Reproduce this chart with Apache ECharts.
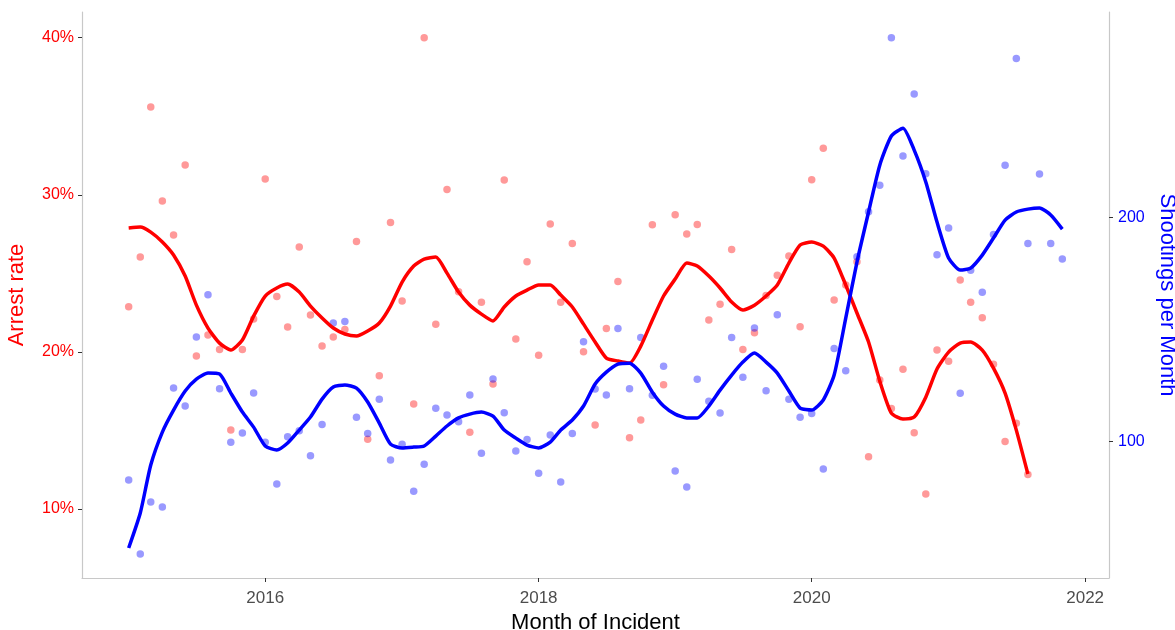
<!DOCTYPE html>
<html>
<head>
<meta charset="utf-8">
<script src="https://cdn.jsdelivr.net/npm/echarts@6/dist/echarts.min.js"></script>
<style>
  html, body { margin: 0; padding: 0; background: #fff; }
  #chart { width: 1175px; height: 630px; }
</style>
</head>
<body>
<div id="chart"></div>
<script>
  // monthly series, first month = Jan 2015
  var startYear = 2015;

  // arrest rate (%) per month, Jan 2015 .. Aug 2021
  var arrestRate = [
    22.87, 26.03, 35.59, 29.60, 27.43, 31.89, 19.73, 21.06, 20.15, 15.01, 20.15, 22.08,
    31.00, 23.52, 21.57, 26.67, 22.34, 20.36, 20.94, 21.41, 27.03, 14.42, 18.47, 28.24,
    23.23, 16.67, 40.00, 21.75, 30.34, 23.82, 14.87, 23.15, 17.94, 30.94, 20.81, 25.73,
    19.77, 28.13, 23.15, 26.90, 20.00, 15.33, 21.48, 24.47, 14.52, 15.65, 28.09, 17.90,
    28.73, 27.50, 28.11, 22.02, 23.02, 26.52, 20.15, 21.21, 23.59, 24.87, 26.10, 21.59,
    30.96, 32.96, 23.29, 24.25, 25.73, 13.31, 18.20, 16.39, 18.88, 14.84, 10.94, 20.11,
    19.39, 24.57, 23.15, 22.17, 19.20, 14.29, 15.44, 12.19
  ];

  // smoothed arrest rate (%)
  var arrestSmooth = [
    27.88, 27.94, 27.62, 26.99, 26.16, 24.82, 22.97, 21.51, 20.55, 20.11, 20.75, 22.27,
    23.55, 24.06, 24.31, 23.80, 22.91, 22.15, 21.51, 21.13, 21.00, 21.32, 21.83, 22.91,
    24.44, 25.46, 25.90, 26.03, 25.01, 23.80, 22.97, 22.40, 21.96, 22.85, 23.55, 23.93,
    24.25, 24.25, 23.61, 22.85, 21.76, 20.62, 19.60, 19.41, 19.28, 20.36, 22.02, 23.55,
    24.63, 25.65, 25.46, 24.82, 24.06, 23.17, 22.66, 22.97, 23.55, 24.25, 25.65, 26.80,
    26.99, 26.73, 25.97, 24.25, 22.47, 20.62, 18.13, 16.09, 15.71, 15.84, 17.11, 18.90,
    19.98, 20.55, 20.62, 20.11, 18.96, 17.37, 15.01, 12.21
  ];

  // shootings per month, Jan 2015 .. Nov 2021
  var shootings = [
    82.8, 49.8, 73.0, 70.8, 123.8, 115.8, 146.6, 165.4, 123.5, 99.7, 103.8, 121.6,
    99.7, 81.0, 102.1, 104.8, 93.6, 107.6, 152.8, 153.5, 110.8, 103.6, 118.8, 91.7,
    98.8, 77.8, 89.8, 114.8, 111.8, 108.8, 120.7, 94.7, 127.8, 112.8, 95.7, 100.9,
    85.8, 102.9, 81.9, 103.6, 144.5, 123.4, 120.7, 150.4, 123.5, 146.4, 120.6, 133.5,
    86.8, 79.7, 127.7, 117.9, 112.7, 146.4, 128.6, 150.6, 122.6, 156.5, 118.8, 110.8,
    112.5, 87.7, 141.5, 131.5, 182.4, 202.4, 214.2, 280.0, 227.3, 254.9, 219.4, 183.2,
    195.2, 121.5, 176.3, 166.5, 192.3, 223.1, 270.8, 188.3, 219.2, 188.3, 181.3
  ];

  // smoothed shootings per month
  var shootingsSmooth = [
    52.5, 68.1, 89.5, 104.2, 114.0, 122.5, 127.8, 130.5, 130.1, 121.6, 113.1, 106.4,
    98.0, 96.2, 99.3, 105.1, 110.9, 118.9, 124.3, 125.2, 123.8, 117.6, 108.2, 98.8,
    97.1, 97.5, 98.0, 102.4, 106.9, 110.5, 112.2, 113.1, 111.3, 105.1, 101.5, 98.4,
    97.1, 99.7, 105.1, 109.6, 115.8, 125.6, 130.9, 134.5, 134.9, 130.5, 122.0, 115.8,
    112.2, 110.5, 110.5, 115.8, 122.9, 129.6, 135.4, 139.4, 135.4, 130.5, 122.5, 114.9,
    114.0, 118.5, 129.6, 155.0, 180.0, 202.3, 223.2, 236.2, 239.7, 229.9, 215.7, 197.8,
    181.8, 176.4, 177.3, 183.1, 190.7, 198.7, 202.3, 203.6, 204.1, 201.0, 194.7
  ];

  var yearTicks = [2016, 2018, 2020, 2022];
  var rateTicks = [10, 20, 30, 40];
  var shootTicks = [100, 200];

  var secScale = 7; // shootings = rate(%) * 7
  var rateMin = 5.59, rateMax = 41.64;

  function monthTime(i) { return Date.UTC(startYear, i, 1); }
  function pairs(arr) {
    var out = [];
    for (var i = 0; i < arr.length; i++) out.push([monthTime(i), arr[i]]);
    return out;
  }

  var t0 = monthTime(0), t1 = monthTime(shootings.length - 1);
  var pad = (t1 - t0) * 0.05;
  var yearTimes = yearTicks.map(function (y) { return Date.UTC(y, 0, 1); });
  var font = '"Liberation Sans", Arial, Helvetica, sans-serif';

  var chart = echarts.init(document.getElementById('chart'));
  var option = {
    animation: false,
    grid: { left: 82, right: 66, top: 12, bottom: 52, outerBoundsMode: 'none', containLabel: false },
    xAxis: {
      type: 'value',
      min: t0 - pad,
      max: t1 + pad,
      name: 'Month of Incident',
      nameLocation: 'middle',
      nameGap: 30,
      nameTextStyle: { fontSize: 22, color: '#000', fontFamily: font },
      axisLine: { show: true, lineStyle: { color: '#c8c8c8', width: 1.2 } },
      axisTick: { show: true, length: 4, customValues: yearTimes, lineStyle: { color: '#333' } },
      axisLabel: {
        customValues: yearTimes,
        formatter: function (v) { return String(new Date(v).getUTCFullYear()); },
        fontSize: 17, color: '#4d4d4d', fontFamily: font, margin: 12
      },
      splitLine: { show: false }
    },
    yAxis: [
      {
        type: 'value',
        min: rateMin,
        max: rateMax,
        name: 'Arrest rate',
        nameLocation: 'middle',
        nameGap: 54,
        nameTextStyle: { fontSize: 22, color: '#ff0000', fontFamily: font },
        axisLine: { show: true, lineStyle: { color: '#c8c8c8', width: 1.2 } },
        axisTick: { show: true, length: 4, customValues: rateTicks, lineStyle: { color: '#333' } },
        axisLabel: {
          customValues: rateTicks,
          formatter: function (v) { return v + '%'; },
          fontSize: 16, color: '#ff0000', fontFamily: font, margin: 8
        },
        splitLine: { show: false }
      },
      {
        type: 'value',
        position: 'right',
        min: rateMin * secScale,
        max: rateMax * secScale,
        name: 'Shootings per Month',
        nameLocation: 'middle',
        nameRotate: -90,
        nameGap: 43,
        nameTextStyle: { fontSize: 22, color: '#0000ff', fontFamily: font },
        axisLine: { show: true, lineStyle: { color: '#c8c8c8', width: 1.2 } },
        axisTick: { show: true, length: 4, customValues: shootTicks, lineStyle: { color: '#333' } },
        axisLabel: {
          customValues: shootTicks,
          fontSize: 16, color: '#0000ff', fontFamily: font, margin: 9
        },
        splitLine: { show: false }
      }
    ],
    series: [
      {
        name: 'Arrest rate', type: 'scatter', yAxisIndex: 0,
        symbolSize: 7.5,
        itemStyle: { color: 'rgba(255,0,0,0.5)' },
        data: pairs(arrestRate)
      },
      {
        name: 'Shootings', type: 'scatter', yAxisIndex: 1,
        symbolSize: 7.5,
        itemStyle: { color: 'rgba(0,0,255,0.5)' },
        data: pairs(shootings)
      },
      {
        name: 'Arrest rate trend', type: 'line', yAxisIndex: 0,
        showSymbol: false, smooth: 0.2,
        lineStyle: { color: '#ff0000', width: 3.5 },
        data: pairs(arrestSmooth)
      },
      {
        name: 'Shootings trend', type: 'line', yAxisIndex: 1,
        showSymbol: false, smooth: 0.2,
        lineStyle: { color: '#0000ff', width: 3.5 },
        data: pairs(shootingsSmooth)
      }
    ]
  };
  chart.setOption(option);
</script>
</body>
</html>
